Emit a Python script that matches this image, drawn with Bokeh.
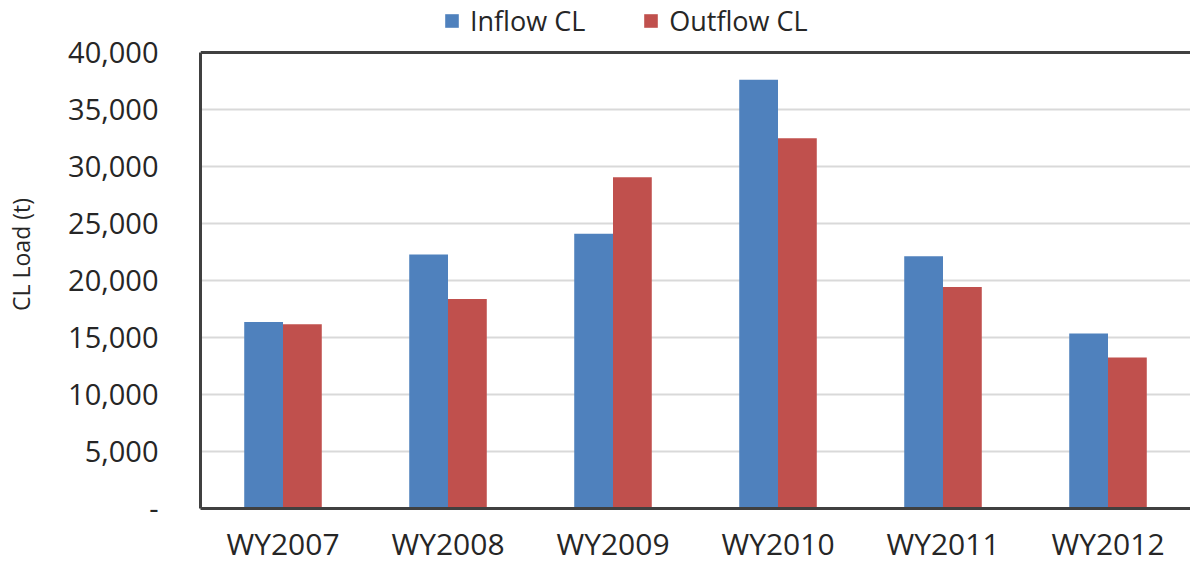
from bokeh.plotting import figure
from bokeh.models import ColumnDataSource, FactorRange, Range1d, Legend, LegendItem, NumeralTickFormatter, FixedTicker, Span
from bokeh.transform import dodge
from bokeh.embed import file_html
from bokeh.resources import INLINE

years = ["WY2007", "WY2008", "WY2009", "WY2010", "WY2011", "WY2012"]
inflow = [16370, 22270, 24100, 37600, 22130, 15350]
outflow = [16160, 18380, 29050, 32480, 19420, 13250]
y_ticks = [0, 5000, 10000, 15000, 20000, 25000, 30000, 35000, 40000]

FONT = "Open Sans"
TXT = "#262626"

# frame spans the full height above the x axis; the top 52 px hold the legend
FRAME_H = 508
TOP_GAP = 52
y_max = y_ticks[-1]
y_end = y_max * FRAME_H / (FRAME_H - TOP_GAP)

src = ColumnDataSource(dict(year=years, inflow=inflow, outflow=outflow))

p = figure(x_range=FactorRange(*years, range_padding=0), y_range=Range1d(0, y_end),
           width=1190, height=566, output_backend="svg", toolbar_location=None,
           min_border_left=200, min_border_right=0, min_border_bottom=55, min_border_top=0)

r1 = p.vbar(x=dodge("year", -0.1175, range=p.x_range), top="inflow", width=0.235,
            source=src, fill_color="#4f81bd", line_color=None)
r2 = p.vbar(x=dodge("year", 0.1175, range=p.x_range), top="outflow", width=0.235,
            source=src, fill_color="#c0504d", line_color=None)

p.outline_line_color = None
p.xgrid.grid_line_color = None
p.ygrid.grid_line_color = "#d9d9d9"
p.ygrid.grid_line_width = 2
p.ygrid.ticker = FixedTicker(ticks=y_ticks[:-1])

p.yaxis.ticker = FixedTicker(ticks=y_ticks)
p.yaxis.bounds = (0, y_max)
p.yaxis.formatter = NumeralTickFormatter(format="0,0")
p.yaxis.major_label_overrides = {0: "-"}
p.yaxis.axis_label = "CL Load (t)"
p.yaxis.axis_label_text_font = FONT
p.yaxis.axis_label_text_font_size = "23px"
p.yaxis.axis_label_text_font_style = "normal"
p.yaxis.axis_label_text_color = TXT
p.yaxis.axis_label_standoff = 28
p.yaxis.major_label_standoff = 36

for ax in (p.xaxis, p.yaxis):
    ax.axis_line_color = "#404040"
    ax.axis_line_width = 3
    ax.major_tick_line_color = None
    ax.minor_tick_line_color = None
    ax.major_label_text_font = FONT
    ax.major_label_text_color = TXT
p.yaxis.major_label_text_font_size = "29px"
p.xaxis.major_label_text_font_size = "30px"
p.xaxis.major_label_standoff = 8

p.add_layout(Span(location=y_max, dimension="width", line_color="#404040", line_width=3))

legend = Legend(items=[LegendItem(label="Inflow CL", renderers=[r1]),
                       LegendItem(label="Outflow CL", renderers=[r2])],
                orientation="horizontal", location=(243, 469),
                label_text_font=FONT, label_text_font_size="27px", label_text_color=TXT,
                glyph_width=17, glyph_height=17, spacing=57, label_standoff=10,
                border_line_color=None, background_fill_alpha=0, padding=0, margin=0)
p.add_layout(legend, "center")

open("out.html", "w").write(file_html(p, INLINE))
